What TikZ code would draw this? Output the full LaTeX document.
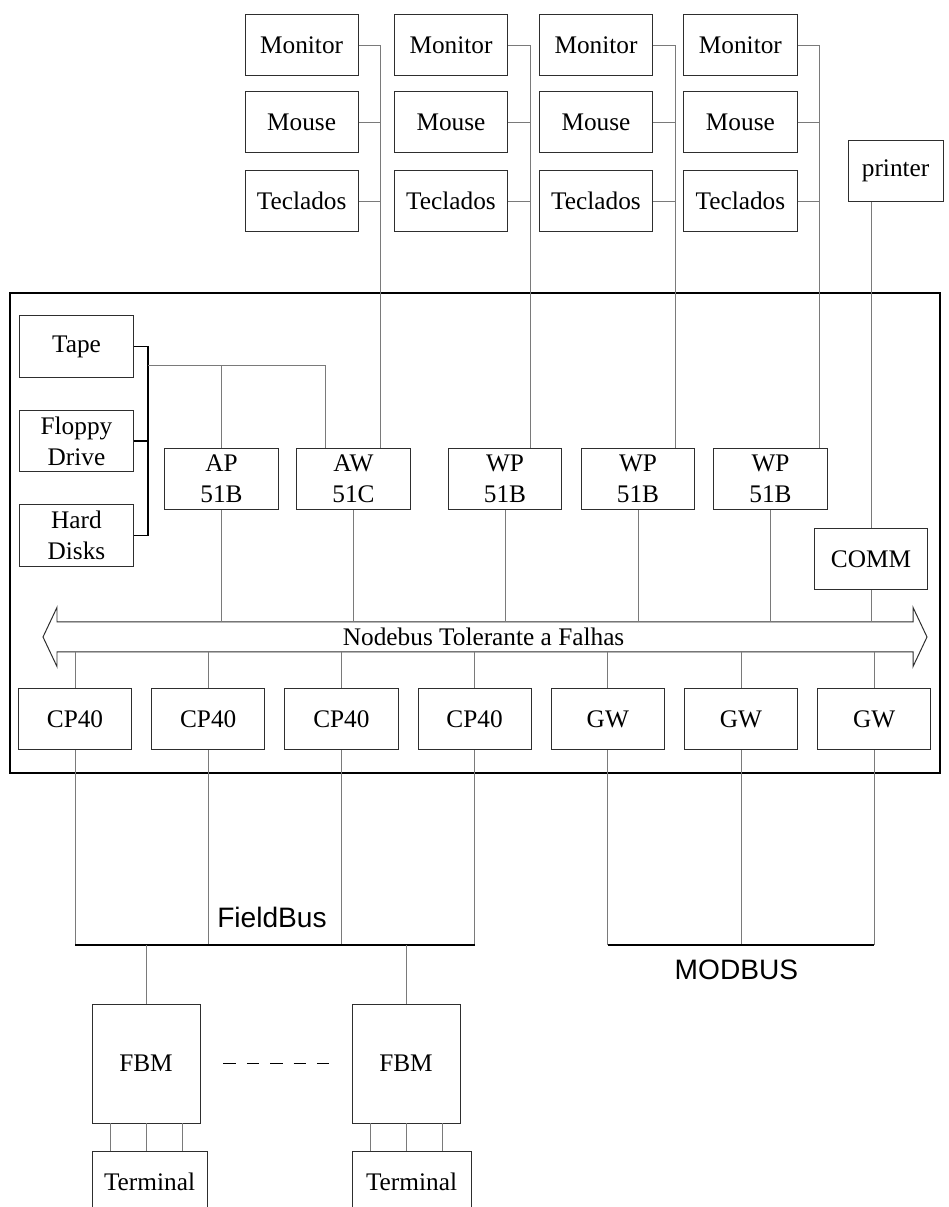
\documentclass[tikz,border=0pt]{standalone}
\usepackage{fontspec}
\setmainfont{Liberation Serif}
\newfontfamily\labelsans{Liberation Sans}
\usetikzlibrary{calc,positioning}
\definecolor{boxgray}{HTML}{2E2E2E}
\definecolor{wiregray}{HTML}{7A7A7A}

\begin{document}
\begin{tikzpicture}[x=1cm,y=1cm,
    unit/.style={draw=boxgray,line width=0.7pt,minimum width=2.83cm,minimum height=1.53cm,
      inner sep=0pt,align=center,font=\fontsize{18}{22}\selectfont},
    wire/.style={draw=wiregray,line width=0.5pt},
    bracketline/.style={draw=black,line width=1.2pt},
    busline/.style={draw=black,line width=0.9pt},
    fbmdots/.style={draw=black,line width=1.3pt,dash pattern=on 9pt off 7.6pt},
    buslabel/.style={font=\labelsans\fontsize{20}{22}\selectfont}]
  \useasboundingbox (0,0) rectangle (23.7,30.175);
  \clip (0,0) rectangle (23.7,30.175);

  % Operator stations: monitor, mouse and keyboard per column.
  \foreach \i/\xx/\dx in {1/7.54/9.5,2/11.275/13.25,3/14.9/16.875,4/18.51/20.475}{
    \node[unit] (mon\i) at (\xx,29.05) {Monitor};
    \node[unit] (mou\i) at (\xx,27.125) {Mouse};
    \node[unit] (tec\i) at (\xx,25.15) {Teclados};
    \coordinate (drop\i) at (\dx,25.15);
  }
  \node[unit,minimum width=2.375cm] (prn) at (22.39,25.9) {printer};

  % Frame of the control station.
  \draw[line width=1.4pt] (0.25,10.85) rectangle (23.5,22.85);

  % Storage devices.
  \node[unit] (tape) at (1.9125,21.5125) {Tape};
  \node[unit] (floppy) at (1.9125,19.15) {Floppy\\Drive};
  \node[unit] (hdisk) at (1.9125,16.7875) {Hard\\Disks};

  % Processors.
  \node[unit] (ap) at (5.5375,18.2) {AP\\51B};
  \node[unit] (aw) at (8.8375,18.2) {AW\\51C};
  \node[unit] (wp1) at (12.625,18.2) {WP\\51B};
  \node[unit] (wp2) at (15.95,18.2) {WP\\51B};
  \node[unit] (wp3) at (19.2625,18.2) {WP\\51B};
  \node[unit] (comm) at (21.775,16.2) {COMM};

  % Station wiring.
  \foreach \i/\tgt in {1/aw,2/wp1,3/wp2,4/wp3}{
    \draw[wire] (mon\i.east) -| (\tgt.north -| drop\i);
    \draw[wire] (mou\i.east) -- (mou\i.east -| drop\i);
    \draw[wire] (tec\i.east) -- (tec\i.east -| drop\i);
  }
  \draw[wire] (comm.north) -- (comm.north |- prn.south);

  \coordinate (brk) at (3.7,21.05);
  \coordinate (awin) at (8.125,21.05);
  \draw[bracketline] (tape.east) -- (tape.east -| brk) -- (hdisk.east -| brk) -- (hdisk.east);
  \draw[bracketline] (floppy.east) -- (floppy.east -| brk);
  \draw[wire] (brk) -- (awin) -- (awin |- aw.north);
  \draw[wire] (ap.north) -- (ap.north |- brk);

  % Fault tolerant node bus.
  \coordinate (bustop) at (0,14.625);
  \coordinate (busbot) at (0,13.875);
  \draw[draw=boxgray,line width=0.7pt,fill=white]
    (1.075,14.25) -- (1.425,14.99) -- (1.425,14.625) -- (22.825,14.625)
    -- (22.825,14.99) -- (23.175,14.25) -- (22.825,13.51) -- (22.825,13.875)
    -- (1.425,13.875) -- (1.425,13.51) -- cycle;
  \node[font=\fontsize{18}{20}\selectfont] (nodebus) at (12.09,14.25) {Nodebus Tolerante a Falhas};
  \foreach \n in {ap,aw,wp1,wp2,wp3,comm}{
    \draw[wire] (\n.south) -- (\n.south |- bustop);
  }

  % Control processors and gateways.
  \foreach \n/\lbl [count=\i from 0] in {cp1/CP40,cp2/CP40,cp3/CP40,cp4/CP40,gw1/GW,gw2/GW,gw3/GW}{
    \node[unit] (\n) at ({1.875+\i*3.33},12.2) {\lbl};
    \draw[wire] (\n.north) -- (\n.north |- busbot);
  }

  % FieldBus and MODBUS.
  \coordinate (field) at (0,6.55);
  \foreach \n in {cp1,cp2,cp3,cp4,gw1,gw2,gw3}{
    \draw[wire] (\n.south) -- (\n.south |- field);
  }
  \draw[busline] (cp1.south |- field) -- (cp4.south |- field);
  \draw[busline] (gw1.south |- field) -- (gw3.south |- field);
  \node[buslabel] (fieldlbl) at (6.8,7.25) {FieldBus};
  \node[buslabel] (modlbl) at (18.41,5.925) {MODBUS};

  % Field bus modules and terminals.
  \node[unit,minimum width=2.7cm,minimum height=2.975cm] (fbm1) at (3.65,3.5875) {FBM};
  \node[unit,minimum width=2.7cm,minimum height=2.975cm] (fbm2) at (10.15,3.5875) {FBM};
  \node[unit,minimum width=2.875cm,minimum height=1.55cm] (term1) at (3.7375,0.625) {Terminal};
  \node[unit,minimum width=2.975cm,minimum height=1.55cm] (term2) at (10.2875,0.625) {Terminal};
  \draw[wire] (fbm1.north) -- (fbm1.north |- field);
  \draw[wire] (fbm2.north) -- (fbm2.north |- field);
  \draw[fbmdots,shorten <=0.575cm,shorten >=0.525cm] (fbm1) -- (fbm2);
  \foreach \m in {1,2}{
    \foreach \k in {-0.9,0,0.9}{
      \path (fbm\m.south) ++(\k,0) coordinate (tap);
      \draw[wire] (tap) -- (tap |- term\m.north);
    }
  }
\end{tikzpicture}
\end{document}
